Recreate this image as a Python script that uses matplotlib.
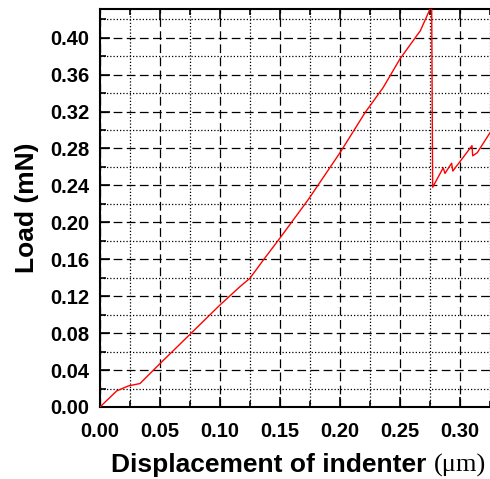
import matplotlib
matplotlib.use("Agg")
import matplotlib.pyplot as plt
from matplotlib.ticker import MultipleLocator, FormatStrFormatter

# Indentation load-displacement record
displacement_um = [0.0, 0.0139, 0.0236, 0.0333, 0.050, 0.075, 0.100, 0.1167, 0.125,
                   0.136, 0.150, 0.1736, 0.200, 0.221, 0.236, 0.250, 0.267, 0.2764,
                   0.2772, 0.286, 0.2875, 0.293, 0.294, 0.310, 0.3106, 0.3144, 0.325]
load_mN = [0.0, 0.0174, 0.0228, 0.0254, 0.047, 0.0787, 0.1105, 0.1304, 0.1395,
           0.159, 0.183, 0.2247, 0.2754, 0.319, 0.346, 0.377, 0.4076, 0.435,
           0.238, 0.259, 0.253, 0.264, 0.2555, 0.283, 0.272, 0.2754, 0.297]

x_ticks = [0.00, 0.05, 0.10, 0.15, 0.20, 0.25, 0.30]
y_ticks = [0.00, 0.04, 0.08, 0.12, 0.16, 0.20, 0.24, 0.28, 0.32, 0.36, 0.40]

plt.rcParams['font.family'] = ['Liberation Sans', 'DejaVu Sans']

fig = plt.figure(figsize=(4.90, 4.79), dpi=100)
ax = fig.add_axes([100 / 490, 1 - 407 / 479, 390 / 490, 398 / 479])

ax.plot(displacement_um, load_mN, color='red', lw=1.0, zorder=3)

ax.set_xlim(0, 0.325)
ax.set_ylim(0, 0.431)
ax.set_xticks(x_ticks)
ax.set_yticks(y_ticks)
ax.xaxis.set_minor_locator(MultipleLocator(0.025))
ax.yaxis.set_minor_locator(MultipleLocator(0.02))
ax.xaxis.set_major_formatter(FormatStrFormatter('%.2f'))
ax.yaxis.set_major_formatter(FormatStrFormatter('%.2f'))

ax.grid(which='major', color='black', lw=0.9, linestyle=(0, (7, 3.5)))
ax.grid(which='minor', color='black', lw=0.9, linestyle=(0, (1, 1.6)))
ax.set_axisbelow(True)

ax.tick_params(which='both', direction='in', top=True, right=False,
               width=1.2, colors='black')
ax.tick_params(which='major', length=7, labelsize=14.5)
ax.tick_params(which='minor', length=4.5)
ax.tick_params(axis='x', which='major', pad=11)
ax.tick_params(axis='y', which='major', pad=7.5)
for lab in ax.get_xticklabels() + ax.get_yticklabels():
    lab.set_fontweight('bold')

for side in ['left', 'top', 'bottom']:
    ax.spines[side].set_linewidth(1.5)
ax.spines['right'].set_visible(False)

ax.set_ylabel('Load (mN)', fontsize=19, fontweight='bold')
ax.yaxis.set_label_coords(-0.157, 0.5)

# x label: bold sans text followed by a serif unit in parentheses
fig.canvas.draw()
renderer = fig.canvas.get_renderer()
main = fig.text(0, 0, 'Displacement of indenter ', fontsize=19, fontweight='bold',
                ha='left', va='baseline')
unit = fig.text(0, 0, '(\u03bcm)', fontsize=19, family='Liberation Serif',
                ha='left', va='baseline')
w_main = main.get_window_extent(renderer).width
w_unit = unit.get_window_extent(renderer).width
total = w_main + w_unit
cx = 298.5
x0 = cx - total / 2
base_y = 479 - 472
main.set_position((x0 / 490, base_y / 479))
unit.set_position(((x0 + w_main) / 490, base_y / 479))

fig.savefig('out.png', dpi=100)
